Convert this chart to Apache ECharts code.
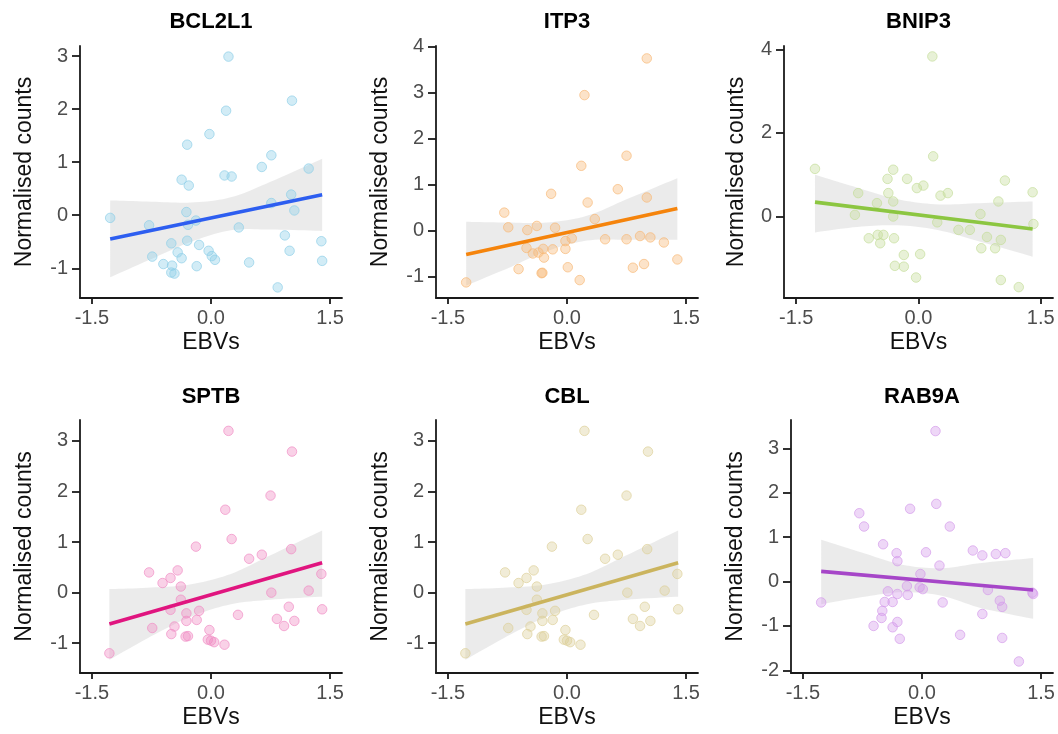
<!DOCTYPE html>
<html><head><meta charset="utf-8">
<script src="https://cdn.jsdelivr.net/npm/echarts@6/dist/echarts.min.js"></script>
<style>html,body{margin:0;padding:0;background:#fff}#c{width:1058px;height:734px}</style>
</head><body><div id="c"></div>
<script>
// ---------- data ----------
const xTicks = [-1.5, 0, 1.5];

const BCL2L1_ebv = [0.22, 1.02, 0.19, -0.02, -0.30, 0.76, 0.64, 1.23, -0.37, -0.28, 0.17, 0.26, 1.01, 0.76, 1.05, -1.27, -0.31, -0.78, -0.29, -0.19, 0.35, 0.93, 1.39, -0.50, -0.30, -0.15, -0.42, -0.03, 0.01, 0.05, -0.37, -0.74, 0.99, 1.40, 0.48, -0.18, -0.60, -0.49, -0.50, -0.46, 0.84];
const BCL2L1_counts = [2.99, 2.16, 1.97, 1.53, 1.33, 1.13, 0.91, 0.88, 0.67, 0.56, 0.75, 0.73, 0.39, 0.23, 0.09, -0.05, 0.06, -0.19, -0.18, -0.10, -0.23, -0.38, -0.49, -0.53, -0.48, -0.56, -0.70, -0.67, -0.77, -0.84, -0.81, -0.78, -0.67, -0.86, -0.89, -0.96, -0.92, -0.95, -1.08, -1.10, -1.36];
const BCL2L1_fitX = [-1.27, 1.40];
const BCL2L1_fitY = [-0.45, 0.385];
const BCL2L1_bandX = [-1.27, -0.75, -0.25, 0.25, 0.75, 1.40];
const BCL2L1_upper = [0.28, 0.256, 0.24, 0.337, 0.63, 1.065];
const BCL2L1_lower = [-1.17, -0.824, -0.50, -0.283, -0.27, -0.295];
const BCL2L1_yTicks = [-1, 0, 1, 2, 3];

const ITP3_ebv = [1.005, 0.22, 0.75, 0.18, 0.64, -0.20, 1.005, 0.26, -0.79, 0.35, -0.74, -0.38, -0.50, -0.15, 0.06, -0.02, 0.48, 0.75, 0.92, 1.05, 1.22, -0.51, -0.43, -0.36, -0.30, -0.29, -0.18, -0.02, 1.39, -0.61, -0.32, 0.01, 0.16, 0.83, 0.97, -1.27, -0.31];
const ITP3_counts = [3.75, 2.95, 1.63, 1.41, 0.90, 0.80, 0.72, 0.61, 0.39, 0.25, 0.07, 0.10, 0.01, 0.06, -0.17, -0.23, -0.19, -0.19, -0.12, -0.15, -0.26, -0.38, -0.50, -0.48, -0.40, -0.59, -0.41, -0.40, -0.63, -0.84, -0.93, -0.80, -1.08, -0.81, -0.73, -1.13, -0.92];
const ITP3_fitX = [-1.27, 1.39];
const ITP3_fitY = [-0.52, 0.48];
const ITP3_bandX = [-1.27, -0.75, -0.25, 0.25, 0.75, 1.39];
const ITP3_upper = [0.19, 0.175, 0.174, 0.32, 0.68, 1.14];
const ITP3_lower = [-1.20, -0.825, -0.446, -0.22, -0.20, -0.20];
const ITP3_yTicks = [-1, 0, 1, 2, 3, 4];

const BNIP3_ebv = [0.17, 0.18, -1.27, -0.31, -0.38, -0.14, -0.02, 0.06, 1.06, -0.74, -0.37, 0.27, 0.36, 1.40, -0.51, -0.31, 0.98, -0.78, -0.31, 0.76, 0.23, 1.41, 0.49, 0.63, -0.61, -0.50, -0.43, -0.47, -0.30, 0.84, 1.01, 0.77, 0.94, -0.18, 0.02, -0.29, -0.18, -0.03, 1.01, 1.23];
const BNIP3_counts = [3.83, 1.44, 1.14, 1.12, 0.90, 0.90, 0.68, 0.74, 0.86, 0.56, 0.56, 0.50, 0.56, 0.58, 0.32, 0.36, 0.36, 0.04, 0.0, 0.06, -0.14, -0.18, -0.32, -0.32, -0.52, -0.44, -0.44, -0.64, -0.52, -0.49, -0.56, -0.76, -0.76, -0.92, -0.90, -1.18, -1.20, -1.46, -1.52, -1.69];
const BNIP3_fitX = [-1.27, 1.40];
const BNIP3_fitY = [0.345, -0.30];
const BNIP3_bandX = [-1.27, -0.75, -0.25, 0.25, 0.75, 1.40];
const BNIP3_upper = [1.00, 0.69, 0.41, 0.29, 0.32, 0.36];
const BNIP3_lower = [-0.38, -0.25, -0.21, -0.33, -0.60, -0.96];
const BNIP3_yTicks = [0, 2, 4];

const SPTB_ebv = [0.22, 1.02, 0.75, 0.18, 0.26, -0.19, 1.01, 0.48, 0.64, -0.78, -0.42, -0.51, -0.61, -0.38, 1.39, 0.76, 1.23, -0.38, -0.51, -0.31, -0.15, 0.34, 0.98, 1.40, -1.28, -0.74, -0.46, -0.50, -0.31, -0.18, -0.32, -0.29, -0.02, -0.04, 0.04, 0.17, 0.0, 0.83, 0.92, 1.05];
const SPTB_counts = [3.20, 2.79, 1.92, 1.64, 1.06, 0.91, 0.86, 0.67, 0.75, 0.40, 0.44, 0.29, 0.19, 0.12, 0.37, 0.0, 0.04, -0.14, -0.34, -0.41, -0.36, -0.44, -0.28, -0.33, -1.20, -0.70, -0.67, -0.82, -0.56, -0.54, -0.87, -0.86, -0.74, -0.93, -0.98, -1.03, -0.95, -0.52, -0.66, -0.56];
const SPTB_fitX = [-1.28, 1.40];
const SPTB_fitY = [-0.62, 0.59];
const SPTB_bandX = [-1.28, -0.75, -0.25, 0.25, 0.75, 1.40];
const SPTB_upper = [0.07, 0.10, 0.165, 0.37, 0.74, 1.23];
const SPTB_lower = [-1.33, -0.86, -0.475, -0.23, -0.14, -0.08];
const SPTB_yTicks = [-1, 0, 1, 2, 3];

const CBL_ebv = [0.22, 1.02, 0.75, 0.18, 0.26, -0.19, 1.01, 0.48, 0.64, -0.78, -0.42, -0.51, -0.61, -0.38, 1.39, 0.76, 1.23, -0.38, -0.51, -0.31, -0.15, 0.34, 0.98, 1.40, -1.28, -0.74, -0.46, -0.50, -0.31, -0.18, -0.32, -0.29, -0.02, -0.04, 0.04, 0.17, 0.0, 0.83, 0.92, 1.05];
const CBL_counts = [3.20, 2.79, 1.92, 1.64, 1.06, 0.91, 0.86, 0.67, 0.75, 0.40, 0.44, 0.29, 0.19, 0.12, 0.37, 0.0, 0.04, -0.14, -0.34, -0.41, -0.36, -0.44, -0.28, -0.33, -1.20, -0.70, -0.67, -0.82, -0.56, -0.54, -0.87, -0.86, -0.74, -0.93, -0.98, -1.03, -0.95, -0.52, -0.66, -0.56];
const CBL_fitX = [-1.28, 1.40];
const CBL_fitY = [-0.62, 0.59];
const CBL_bandX = [-1.28, -0.75, -0.25, 0.25, 0.75, 1.40];
const CBL_upper = [0.07, 0.10, 0.165, 0.37, 0.74, 1.23];
const CBL_lower = [-1.33, -0.86, -0.475, -0.23, -0.14, -0.08];
const CBL_yTicks = [-1, 0, 1, 2, 3];

const RAB9A_ebv = [0.17, 0.18, -0.15, -0.79, -0.73, 0.35, -0.49, -0.32, -0.31, 0.05, 0.64, 0.76, 0.93, 1.05, 0.22, -0.02, -0.19, -0.03, 0.01, -0.43, -0.31, -0.18, 0.83, -1.27, -0.47, -0.37, 0.26, 0.98, 1.01, 1.40, -0.50, -0.51, -0.61, -0.37, -0.31, 0.76, 0.48, -0.28, 1.01, 1.22, 1.39];
const RAB9A_counts = [3.39, 1.75, 1.64, 1.54, 1.24, 1.24, 0.84, 0.64, 0.46, 0.66, 0.70, 0.59, 0.62, 0.64, 0.36, 0.17, -0.10, -0.13, -0.17, -0.22, -0.28, -0.30, -0.19, -0.47, -0.46, -0.46, -0.47, -0.43, -0.57, -0.28, -0.66, -0.82, -1.00, -1.03, -0.91, -0.73, -1.20, -1.29, -1.27, -1.80, -0.25];
const RAB9A_fitX = [-1.27, 1.40];
const RAB9A_fitY = [0.23, -0.19];
const RAB9A_bandX = [-1.27, -0.75, -0.25, 0.25, 0.75, 1.40];
const RAB9A_upper = [0.94, 0.65, 0.38, 0.30, 0.42, 0.53];
const RAB9A_lower = [-0.51, -0.35, -0.24, -0.32, -0.60, -0.84];
const RAB9A_yTicks = [-2, -1, 0, 1, 2, 3];

// ---------- layout / style ----------
const panels = [
  {title:'BCL2L1', x:BCL2L1_ebv, y:BCL2L1_counts, fx:BCL2L1_fitX, fy:BCL2L1_fitY, bx:BCL2L1_bandX, bu:BCL2L1_upper, bl:BCL2L1_lower, ticks:BCL2L1_yTicks,
   ymin:-1.56, ymax:3.19, box:[80, 46, 262, 252], pt:'#8ecfe8', line:'#2d5ef0', nameGap:44},
  {title:'ITP3', x:ITP3_ebv, y:ITP3_counts, fx:ITP3_fitX, fy:ITP3_fitY, bx:ITP3_bandX, bu:ITP3_upper, bl:ITP3_lower, ticks:ITP3_yTicks,
   ymin:-1.47, ymax:4.02, box:[436, 46, 262, 252], pt:'#f7b877', line:'#f5840c', nameGap:44},
  {title:'BNIP3', x:BNIP3_ebv, y:BNIP3_counts, fx:BNIP3_fitX, fy:BNIP3_fitY, bx:BNIP3_bandX, bu:BNIP3_upper, bl:BNIP3_lower, ticks:BNIP3_yTicks,
   ymin:-1.95, ymax:4.08, box:[784, 46, 269, 252], pt:'#c5dd9a', line:'#8cc641', nameGap:36},
  {title:'SPTB', x:SPTB_ebv, y:SPTB_counts, fx:SPTB_fitX, fy:SPTB_fitY, bx:SPTB_bandX, bu:SPTB_upper, bl:SPTB_lower, ticks:SPTB_yTicks,
   ymin:-1.59, ymax:3.415, box:[80, 420, 262, 253], pt:'#f08cc4', line:'#e0157f', nameGap:44},
  {title:'CBL', x:CBL_ebv, y:CBL_counts, fx:CBL_fitX, fy:CBL_fitY, bx:CBL_bandX, bu:CBL_upper, bl:CBL_lower, ticks:CBL_yTicks,
   ymin:-1.59, ymax:3.415, box:[436, 420, 262, 253], pt:'#ddd09a', line:'#cbb45e', nameGap:44},
  {title:'RAB9A', x:RAB9A_ebv, y:RAB9A_counts, fx:RAB9A_fitX, fy:RAB9A_fitY, bx:RAB9A_bandX, bu:RAB9A_upper, bl:RAB9A_lower, ticks:RAB9A_yTicks,
   ymin:-2.06, ymax:3.64, box:[791, 420, 262, 253], pt:'#d49bea', line:'#a646c8', nameGap:44}
];

const FONT = '"Liberation Sans", Arial, Helvetica, sans-serif';
function rgba(hex, a) {
  const n = parseInt(hex.slice(1), 16);
  return 'rgba(' + ((n >> 16) & 255) + ',' + ((n >> 8) & 255) + ',' + (n & 255) + ',' + a + ')';
}
// Catmull-Rom spline through pixel points (rendering helper for the ribbon edges)
function spline(pts, seg) {
  const out = [];
  const n = pts.length;
  for (let i = 0; i < n - 1; i++) {
    const p0 = pts[Math.max(i - 1, 0)], p1 = pts[i], p2 = pts[i + 1], p3 = pts[Math.min(i + 2, n - 1)];
    for (let s = 0; s < seg; s++) {
      const t = s / seg, t2 = t * t, t3 = t2 * t;
      const f = d => 0.5 * (2 * p1[d] + (-p0[d] + p2[d]) * t + (2 * p0[d] - 5 * p1[d] + 4 * p2[d] - p3[d]) * t2 + (-p0[d] + 3 * p1[d] - 3 * p2[d] + p3[d]) * t3);
      out.push([f(0), f(1)]);
    }
  }
  out.push(pts[n - 1]);
  return out;
}
const AX = '#1a1a1a';
const grid = [], xAxis = [], yAxis = [], series = [], graphic = [];

panels.forEach((p, i) => {
  const [l, t, w, h] = p.box;
  grid.push({left: l, top: t, width: w, height: h, containLabel: false});
  xAxis.push({
    type: 'value', gridIndex: i, min: -1.65, max: 1.65,
    name: 'EBVs', nameLocation: 'middle', nameGap: 33,
    nameTextStyle: {fontFamily: FONT, fontSize: 23, color: '#111'},
    axisLine: {show: true, onZero: false, lineStyle: {color: AX, width: 1.8}},
    axisTick: {show: true, customValues: xTicks, length: 6, lineStyle: {color: AX, width: 1.8}},
    axisLabel: {show: true, customValues: xTicks, margin: 10, fontFamily: FONT, fontSize: 20, color: '#4d4d4d',
      formatter: v => v.toFixed(1)},
    splitLine: {show: false}
  });
  yAxis.push({
    type: 'value', gridIndex: i, min: p.ymin, max: p.ymax,
    name: 'Normalised counts', nameLocation: 'middle', nameGap: p.nameGap, nameRotate: 90,
    nameTextStyle: {fontFamily: FONT, fontSize: 23, color: '#111'},
    axisLine: {show: true, onZero: false, lineStyle: {color: AX, width: 1.8}},
    axisTick: {show: true, customValues: p.ticks, length: 8, lineStyle: {color: AX, width: 1.8}},
    axisLabel: {show: true, customValues: p.ticks, margin: 12, fontFamily: FONT, fontSize: 20, color: '#4d4d4d',
      formatter: v => String(Math.round(v))},
    splitLine: {show: false}
  });
  series.push({
    type: 'scatter', xAxisIndex: i, yAxisIndex: i, symbolSize: 9.5, silent: true,
    data: p.x.map((v, k) => [v, p.y[k]]),
    itemStyle: {color: rgba(p.pt, 0.5), borderColor: rgba(p.pt, 0.85), borderWidth: 1}
  });
  series.push({
    type: 'custom', xAxisIndex: i, yAxisIndex: i, silent: true,
    data: p.bx.map((v, k) => [v, p.bu[k], p.bl[k]]),
    encode: {x: 0, y: [1, 2]},
    renderItem: (params, api) => {
      if (params.dataIndex !== 0) return null;
      const up = p.bx.map((v, k) => api.coord([v, p.bu[k]]));
      const lo = p.bx.map((v, k) => api.coord([v, p.bl[k]]));
      const pts = spline(up, 10).concat(spline(lo, 10).reverse());
      return {type: 'polygon', shape: {points: pts}, style: {fill: 'rgba(205,205,205,0.4)'}};
    }
  });
  series.push({
    type: 'line', xAxisIndex: i, yAxisIndex: i, symbol: 'none', silent: true,
    lineStyle: {color: p.line, width: 3.6},
    data: p.fx.map((v, k) => [v, p.fy[k]])
  });
  graphic.push({
    type: 'text', x: l + w / 2, y: i < 3 ? 22 : 397,
    style: {text: p.title, fontFamily: FONT, fontSize: 22, fontWeight: 'bold', fill: '#000',
      align: 'center', verticalAlign: 'middle'}
  });
});

const chart = echarts.init(document.getElementById('c'), null, {renderer: 'canvas'});
chart.setOption({animation: false, backgroundColor: '#fff', grid, xAxis, yAxis, series, graphic});
</script>
</body></html>
